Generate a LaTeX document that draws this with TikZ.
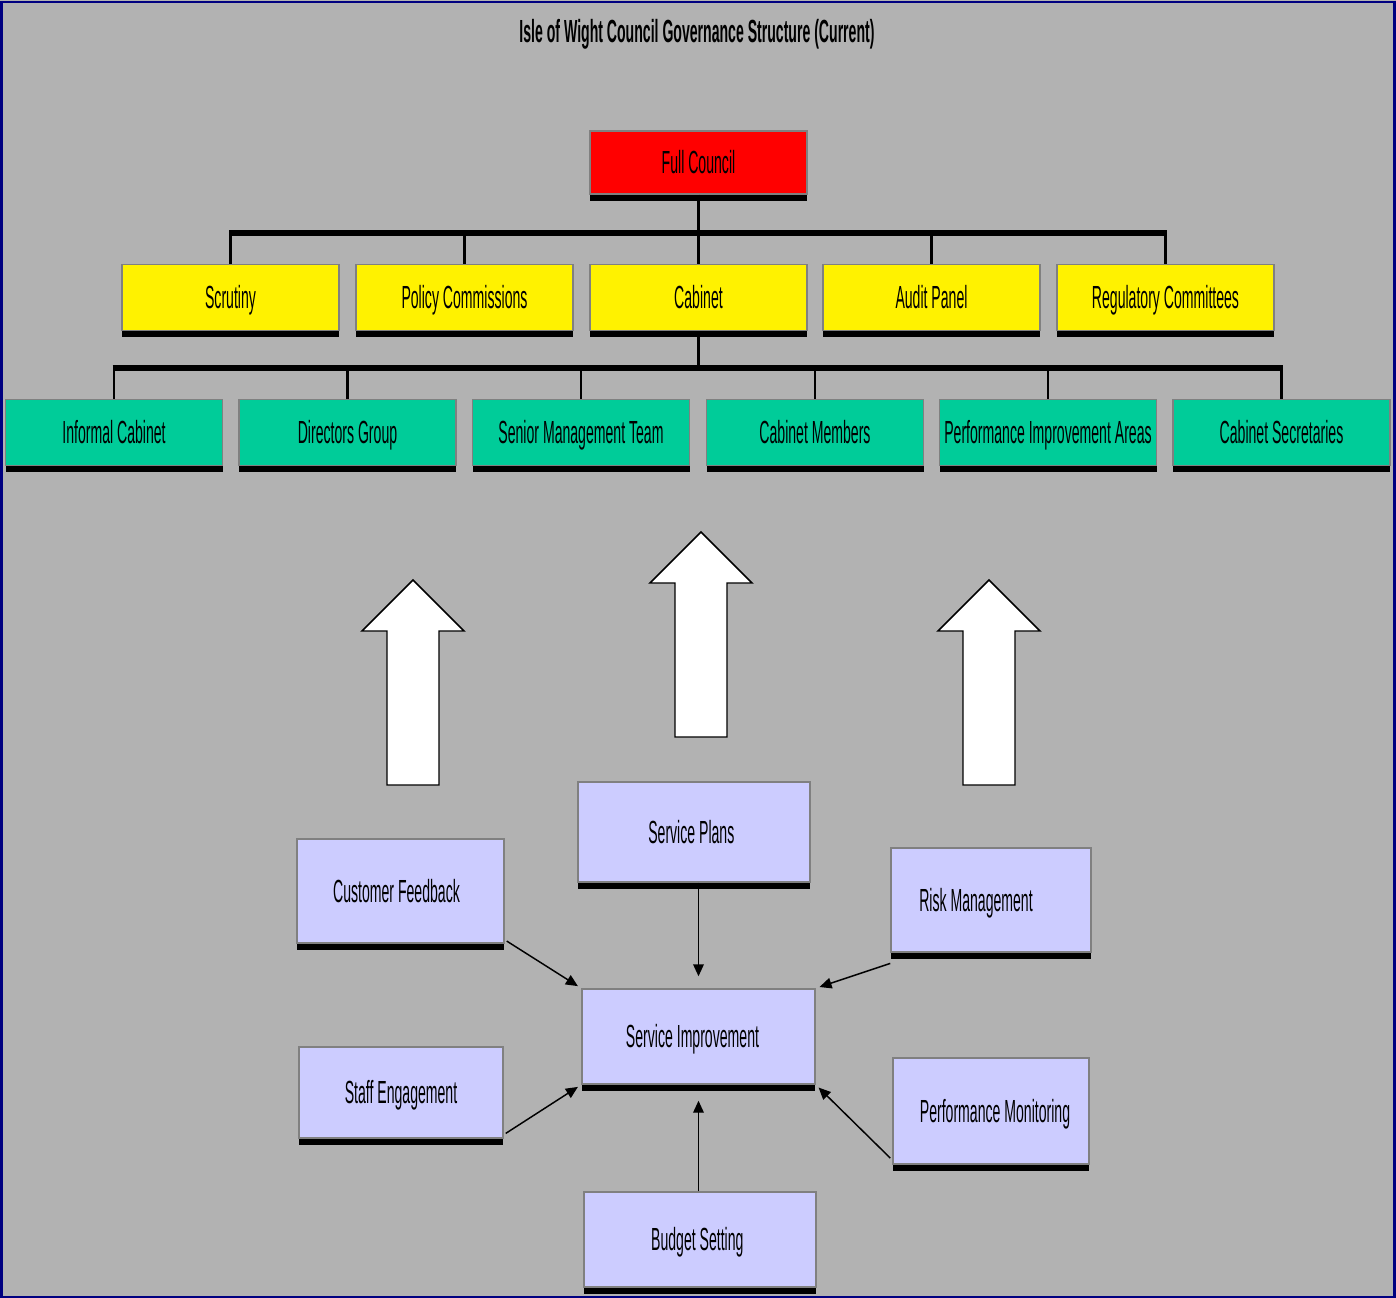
\documentclass[tikz,border=0pt]{standalone}
\usepackage{fontspec}
\setmainfont{Liberation Sans}[FakeStretch=0.44]
\usepackage{tikz}
\usetikzlibrary{arrows.meta,shadows,calc}
\definecolor{bggrey}{RGB}{178,178,178}
\definecolor{framenavy}{RGB}{0,0,128}
\definecolor{boxgreen}{RGB}{0,204,153}
\definecolor{boxlilac}{RGB}{204,204,255}
\definecolor{edgegrey}{RGB}{128,128,128}
\tikzset{
  box/.style={rectangle, draw=edgegrey, line width=1.1pt, inner sep=0pt,
    text height=17pt, text depth=0pt, font=\fontsize{24pt}{28pt}\selectfont,
    drop shadow={shadow xshift=0.3pt, shadow yshift=-5pt, fill=black, opacity=1}},
  tier/.style={box, minimum width=162.75pt, minimum height=49.5pt},
  bus/.style={line width=5pt, shorten <=-1pt, shorten >=-1pt},
  stem/.style={line width=2pt},
  feed/.style={line width=1.1pt, -{Triangle[length=9pt,width=8pt]}},
  bigarrow/.style={draw=black, fill=white, line width=1.1pt, line join=miter}
}

\begin{document}
\begin{tikzpicture}[x=0.75pt, y=-0.75pt]
    \useasboundingbox (0,0) rectangle (1396,1298);
    \fill[bggrey] (0,0) rectangle (1396,1298);
    \draw[framenavy, line width=2.2pt] (1.5,2) rectangle (1394.5,1297);

    \node[font=\fontsize{24pt}{28pt}\selectfont\bfseries, text height=17pt, text depth=0pt] (title) at (697,31.5) {Isle of Wight Council Governance Structure (Current)};

    % Nós
    \node[tier, fill=red, minimum height=47.25pt] (fc) at (698.5,162.5) {Full Council};

    \node[tier, fill=yellow] (scr) at (230.5,297.5) {Scrutiny};
    \node[tier, fill=yellow] (pc) at (464.5,297.5) {Policy Commissions};
    \node[tier, fill=yellow] (cab) at (698.5,297.5) {Cabinet};
    \node[tier, fill=yellow] (ap) at (931.5,297.5) {Audit Panel};
    \node[tier, fill=yellow] (rc) at (1165.5,297.5) {Regulatory Committees};

    \node[tier, fill=boxgreen] (ic) at (114,432.5) {Informal Cabinet};
    \node[tier, fill=boxgreen] (dg) at (347.5,432.5) {Directors Group};
    \node[tier, fill=boxgreen] (smt) at (581,432.5) {Senior Management Team};
    \node[tier, fill=boxgreen] (cm) at (815,432.5) {Cabinet Members};
    \node[tier, fill=boxgreen] (pia) at (1048,432.5) {Performance Improvement Areas};
    \node[tier, fill=boxgreen] (cs) at (1281.5,432.5) {Cabinet Secretaries};

    \node[box, fill=boxlilac, minimum width=174pt, minimum height=75pt] (sp) at (694,832) {Service Plans\kern4pt};
    \node[box, fill=boxlilac, minimum width=155.25pt, minimum height=78pt] (cf) at (400.5,891) {Customer Feedback\kern6pt};
    \node[box, fill=boxlilac, minimum width=150pt, minimum height=78pt] (rm) at (991,900) {Risk Management\kern22.5pt};
    \node[box, fill=boxlilac, minimum width=174.75pt, minimum height=71.25pt] (si) at (698.5,1036.5) {Service Improvement\kern9pt};
    \node[box, fill=boxlilac, minimum width=153pt, minimum height=68.25pt] (se) at (401,1092.5) {Staff Engagement};
    \node[box, fill=boxlilac, minimum width=147pt, minimum height=79.5pt] (pm) at (991,1111) {\kern6pt Performance Monitoring};
    \node[box, fill=boxlilac, minimum width=174pt, minimum height=71.25pt] (bs) at (700,1239.5) {Budget Setting\kern4pt};

    \coordinate (busa) at (698.5,233);
    \coordinate (busb) at (698.5,368);

    \draw[stem] (fc) -- (busa);
    \draw[bus] (scr.north |- busa) -- (rc.north |- busa);
    \draw[stem] (scr) -- (scr.north |- busa);
    \draw[stem] (pc) -- (pc.north |- busa);
    \draw[stem] (cab) -- (busa);
    \draw[stem] (ap) -- (ap.north |- busa);
    \draw[stem] (rc) -- (rc.north |- busa);

    \draw[stem] (cab) -- (busb);
    \draw[bus] (ic.north |- busb) -- (cs.north |- busb);
    \draw[stem] (ic) -- (ic.north |- busb);
    \draw[stem] (dg) -- (dg.north |- busb);
    \draw[stem] (smt) -- (smt.north |- busb);
    \draw[stem] (cm) -- (cm.north |- busb);
    \draw[stem] (pia) -- (pia.north |- busb);
    \draw[stem] (cs) -- (cs.north |- busb);

    \draw[bigarrow] (387,785) -- (439,785) -- (439,631) -- (464,631) -- (413,580) -- (362,631) -- (387,631) -- cycle;
    \draw[bigarrow] (675,737) -- (727,737) -- (727,583) -- (752,583) -- (701,532) -- (650,583) -- (675,583) -- cycle;
    \draw[bigarrow] (963,785) -- (1015,785) -- (1015,631) -- (1040,631) -- (989,580) -- (938,631) -- (963,631) -- cycle;

    \draw[feed, shorten >=9pt] (si.north |- sp.south) -- (si.north);
    \draw[feed, shorten >=3pt] ([xshift=1.5pt, yshift=2pt]cf.south east) -- (si.north west);
    \draw[feed, shorten >=3pt] ([yshift=-8pt]rm.south west) -- (si.north east);
    \draw[feed, shorten >=3pt] ([xshift=1.5pt, yshift=4pt]se.south east) -- (si.south west);
    \draw[feed, shorten >=3pt] ([xshift=-1.5pt, yshift=5pt]pm.south west) -- (si.south east);
    \draw[feed, shorten >=12pt] (si.south |- bs.north) -- (si.south);
  \end{tikzpicture}
\end{document}
